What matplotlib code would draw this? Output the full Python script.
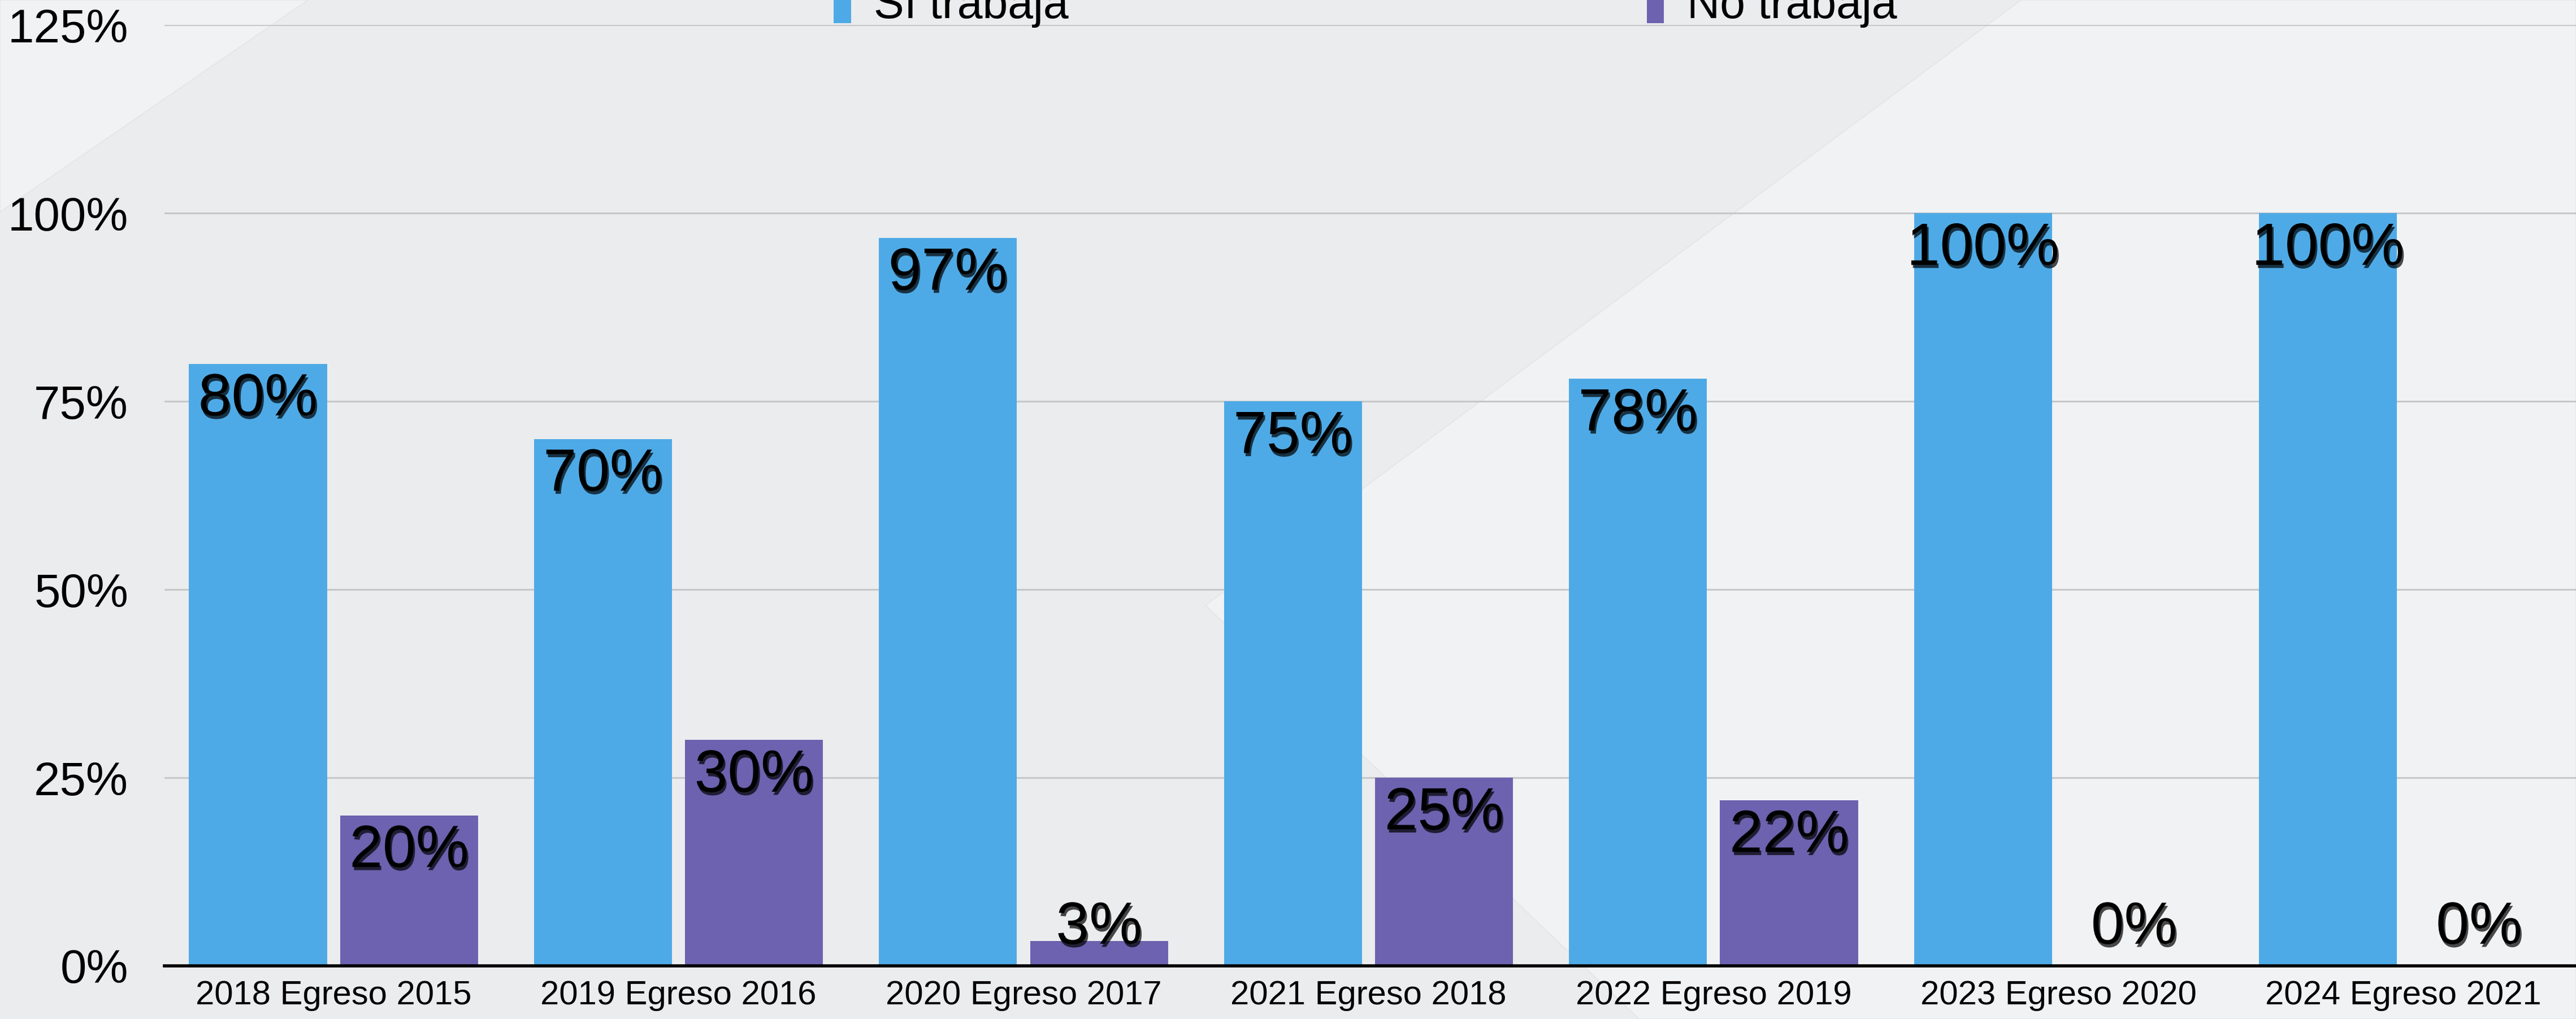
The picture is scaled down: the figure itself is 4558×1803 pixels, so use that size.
import numpy as np
import matplotlib
matplotlib.use("Agg")
import matplotlib.pyplot as plt
import matplotlib.patheffects as pe
from matplotlib.patches import Polygon
from matplotlib.ticker import PercentFormatter

# data
categories = ["2018 Egreso 2015", "2019 Egreso 2016", "2020 Egreso 2017",
              "2021 Egreso 2018", "2022 Egreso 2019", "2023 Egreso 2020",
              "2024 Egreso 2021"]
si_trabaja = [0.80, 0.70, 0.967, 0.75, 0.78, 1.00, 1.00]
no_trabaja = [0.20, 0.30, 0.033, 0.25, 0.22, 0.00, 0.00]
series_names = ["Sí trabaja", "No trabaja"]
yticks = [0, 0.25, 0.5, 0.75, 1.0, 1.25]

blue = "#4EAAE6"
purple = "#6C62AF"

plt.rcParams['font.family'] = ['Liberation Sans', 'DejaVu Sans']

W, H = 4558, 1803
fig = plt.figure(figsize=(W / 100, H / 100), dpi=100)
fig.patch.set_facecolor("#EBECEE")

# faint lighter background shapes
def fig_poly(pts, color):
    xy = [(x / W, 1 - y / H) for x, y in pts]
    fig.patches.append(Polygon(xy, closed=True, transform=fig.transFigure,
                               facecolor=color, edgecolor="#E2E3E5", lw=1, zorder=-5))

fig_poly([(0, 0), (545, 0), (0, 375)], "#F0F2F4")
fig_poly([(3576, 0), (W, 0), (W, H), (2900, H), (2133, 1071)], "#F1F2F4")

ax = fig.add_axes([291 / W, 1 - 1709 / H, 1 - 291 / W, (1709 - 44) / H])
ax.set_facecolor("none")
ax.set_zorder(2)

x = np.arange(len(categories))
w = 0.40
off = 0.219
b1 = ax.bar(x - off, si_trabaja, w, color=blue, label=series_names[0], zorder=2)
b2 = ax.bar(x + off, no_trabaja, w, color=purple, label=series_names[1], zorder=2)

shadow = [pe.SimplePatchShadow(offset=(2, -4), shadow_rgbFace="black", alpha=0.7),
          pe.Normal()]
for bars, vals in [(b1, si_trabaja), (b2, no_trabaja)]:
    for rect, v in zip(bars, vals):
        cx = rect.get_x() + rect.get_width() / 2
        ylab = v - 0.048 if v > 0.09 else 0.05
        ax.text(cx, ylab, f"{round(v * 100):.0f}%", ha="center", va="center",
                fontsize=76, color="black", zorder=3, path_effects=shadow)

ax.set_xlim(-0.49, 6.5)
ax.set_ylim(0, 1.2502)
ax.set_yticks(yticks)
ax.yaxis.set_major_formatter(PercentFormatter(1.0, decimals=0))
ax.set_xticks(x)
ax.set_xticklabels(categories)
ax.tick_params(axis="y", length=0, pad=46, labelsize=60)
ax.tick_params(axis="x", length=0, pad=18, labelsize=43)
ax.grid(axis="y", color="#C6C7C9", lw=2.2, zorder=1)
ax.set_axisbelow(True)
for s in ["top", "right", "left"]:
    ax.spines[s].set_visible(False)
ax.spines["bottom"].set_color("black")
ax.spines["bottom"].set_linewidth(4)
ax.spines["bottom"].set_zorder(4)

fig.legend(loc="center", bbox_to_anchor=(0.53, 0.995), ncol=2, frameon=False,
           fontsize=58, handlelength=0.38, handleheight=1.0, handletextpad=0.5,
           columnspacing=12.7)

fig.savefig("out.png", dpi=100, facecolor=fig.get_facecolor())
